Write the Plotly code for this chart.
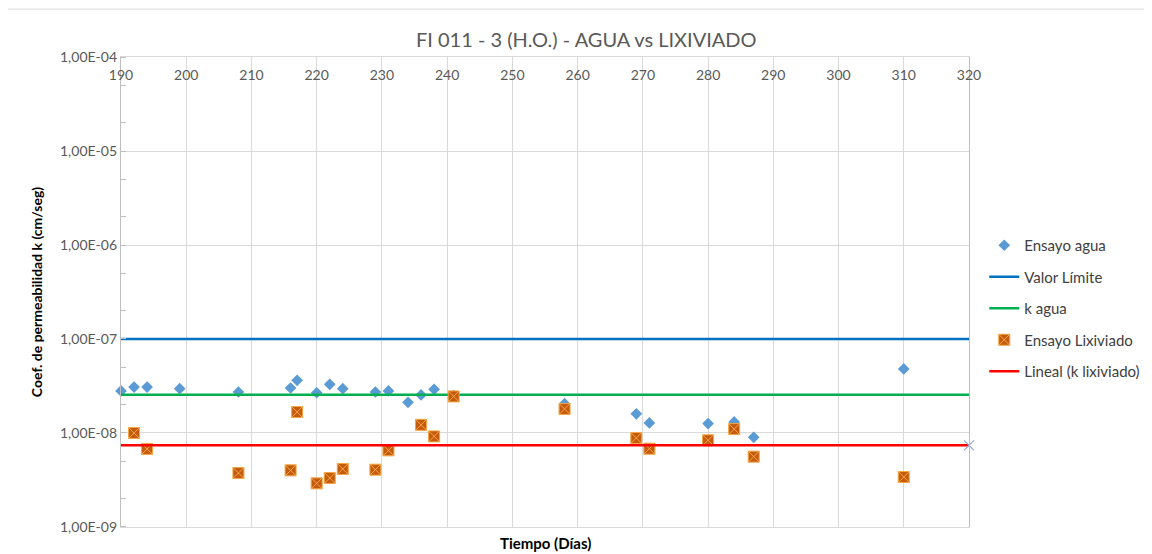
import plotly.graph_objects as go

# Data
agua_dias = [190, 192, 194, 199, 208, 216, 217, 220, 222, 224, 229, 231, 234, 236, 238, 241, 258, 269, 271, 280, 284, 287, 310]
agua_k = [2.80e-8, 3.08e-8, 3.08e-8, 2.96e-8, 2.73e-8, 3.01e-8, 3.63e-8, 2.68e-8, 3.29e-8, 2.96e-8, 2.73e-8,
          2.80e-8, 2.12e-8, 2.54e-8, 2.91e-8, 2.50e-8, 2.05e-8, 1.60e-8, 1.28e-8, 1.26e-8, 1.31e-8, 8.98e-9, 4.80e-8]
lix_dias = [192, 194, 208, 216, 217, 220, 222, 224, 229, 231, 236, 238, 241, 258, 269, 271, 280, 284, 287, 310]
lix_k = [1.00e-8, 6.76e-9, 3.75e-9, 4.00e-9, 1.67e-8, 2.91e-9, 3.32e-9, 4.14e-9, 4.07e-9, 6.53e-9, 1.22e-8,
         9.20e-9, 2.45e-8, 1.80e-8, 8.85e-9, 6.80e-9, 8.35e-9, 1.10e-8, 5.60e-9, 3.40e-9]
x_range = [190, 320]
valor_limite = 1e-7
k_agua = 2.55e-8
k_lixiviado = 7.38e-9
ytick_vals = [1e-9, 1e-8, 1e-7, 1e-6, 1e-5, 1e-4]
ytick_text = ["1,00E-09", "1,00E-08", "1,00E-07", "1,00E-06", "1,00E-05", "1,00E-04"]

FONT = "Lato, Open Sans, sans-serif"
fig = go.Figure()

fig.add_trace(go.Scatter(x=agua_dias, y=agua_k, mode="markers", name="Ensayo agua", legendgroup="a",
                         cliponaxis=False,
                         marker=dict(symbol="diamond", size=9, color="#5B9BD5")))
fig.add_trace(go.Scatter(x=x_range, y=[valor_limite] * 2, mode="lines", name="Valor Límite", legendgroup="b",
                         line=dict(color="#0070C0", width=2.5)))
fig.add_trace(go.Scatter(x=x_range, y=[k_agua] * 2, mode="lines", name="k agua", legendgroup="c",
                         line=dict(color="#00B050", width=2.5)))
fig.add_trace(go.Scatter(x=lix_dias, y=lix_k, mode="markers", name="Ensayo Lixiviado", legendgroup="d",
                         marker=dict(symbol="square-x", size=11, color="#C55A11",
                                     line=dict(color="#F4A640", width=1))))
fig.add_trace(go.Scatter(x=x_range, y=[k_lixiviado] * 2, mode="lines", name="Lineal (k lixiviado)", legendgroup="e",
                         line=dict(color="#FF0000", width=2.5)))
fig.add_trace(go.Scatter(x=[x_range[1]], y=[k_lixiviado], mode="markers", showlegend=False, cliponaxis=False,
                         marker=dict(symbol="x-thin", size=10, line=dict(color="#8FAADC", width=1.2))))

# page has an 8px body margin, so the figure is 8px smaller and margins compensate
fig.update_layout(
    width=1144, height=546,
    paper_bgcolor="white", plot_bgcolor="white",
    margin=dict(l=113, r=183, t=49, b=27, autoexpand=False),
    title=dict(text="FI 011 - 3 (H.O.) - AGUA vs LIXIVIADO", x=0.5055, xanchor="center", y=0.941, yanchor="middle",
               font=dict(family=FONT, size=20, color="#595959")),
    font=dict(family=FONT, color="#595959"),
    showlegend=True,
    legend=dict(x=1.018, y=0.634, xanchor="left", yanchor="top", tracegroupgap=9,
                font=dict(family=FONT, size=15, color="#404040"), bgcolor="rgba(0,0,0,0)"),
    xaxis=dict(range=x_range, side="top", dtick=10, tick0=190, ticklabelposition="inside",
               ticklabeloverflow="allow", ticklabelstandoff=13,
               showgrid=True, gridcolor="#D9D9D9", gridwidth=1.3, automargin=False,
               showline=True, linecolor="#D9D9D9", linewidth=1.3, mirror=True,
               ticks="", tickfont=dict(size=14, color="#595959"), zeroline=False),
    yaxis=dict(type="log", range=[-9.0005, -3.9995], tickvals=ytick_vals, ticktext=ytick_text,
               showgrid=True, gridcolor="#D9D9D9", gridwidth=1.3, automargin=False,
               showline=True, linecolor="#BFBFBF", linewidth=1.3, mirror=True,
               ticks="", tickfont=dict(size=14, color="#595959"),
               minor=dict(ticks="inside", ticklen=5, tickcolor="#BFBFBF", showgrid=False),
               title=dict(text="<b>Coef. de permeabilidad k (cm/seg)</b>", standoff=14,
                          font=dict(family=FONT, size=14, color="#000000"))),
    annotations=[dict(text="<b>Tiempo (Días)</b>", xref="paper", yref="paper", x=0.5, y=0.0,
                      xanchor="center", yanchor="top", yshift=-5, showarrow=False,
                      font=dict(family=FONT, size=15, color="#000000"))],
    shapes=[dict(type="rect", xref="paper", yref="paper", x0=-0.1345, x1=1.25, y0=-0.1, y1=1.102,
                 line=dict(color="#D9D9D9", width=1), layer="below")],
)

fig.write_html("out.html")
